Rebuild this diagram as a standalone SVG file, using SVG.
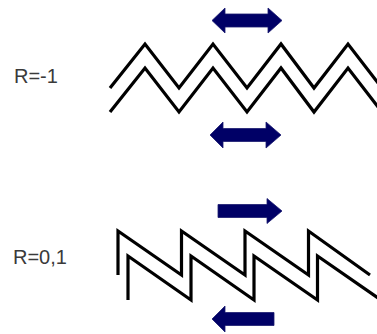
<svg xmlns="http://www.w3.org/2000/svg" width="377" height="334" viewBox="0 0 377 334">
<style>
.lbl{font-family:"Liberation Sans",Arial,sans-serif;font-size:20px;fill:#3a3a3a}
.wave{fill:none;stroke:#000;stroke-width:3.2;stroke-linejoin:miter;stroke-miterlimit:10}
.arr{fill:#000066;stroke:#1a1a70;stroke-width:0.8;stroke-linejoin:round}
</style>
<rect width="377" height="334" fill="#fff"/>
<g id="label-r-minus1"><text class="lbl" x="14" y="83">R=-1</text></g>
<g id="label-r-01"><text class="lbl" x="13" y="264">R=0,1</text></g>
<g id="zigzag-symmetric">
<path class="wave" d="M110,88 L145,44 L179,88 L213,44 L247,88 L281,44 L314,88 L348,44 L382,88"/>
<path class="wave" d="M110,112 L145,68 L179,112 L213,68 L247,112 L281,68 L314,112 L348,68 L382,112"/>
</g>
<g id="sawtooth">
<path class="wave" d="M118,275 V231 L181.5,275 V231 L245,275 V231 L308.5,275 V231 L370,275"/>
<path class="wave" d="M128,300 V256 L191,300 V256 L254,300 V256 L317.5,300 V256 L381,300"/>
</g>
<g id="connectors">
<path class="arr" d="M212,20.5 L225,8 L225,14 L268,14 L268,8 L282,20.5 L268,33 L268,27 L225,27 L225,33 Z"/>
<path class="arr" d="M210,135 L223,122 L223,128.5 L266,128.5 L266,122 L281,135 L266,148 L266,141.5 L223,141.5 L223,148 Z"/>
<path class="arr" d="M218,204.5 L267,204.5 L267,198.5 L282,211 L267,223.5 L267,217.5 L218,217.5 Z"/>
<path class="arr" d="M274,312.5 L225,312.5 L225,306 L212,319 L225,332 L225,325.5 L274,325.5 Z"/>
</g>
</svg>
